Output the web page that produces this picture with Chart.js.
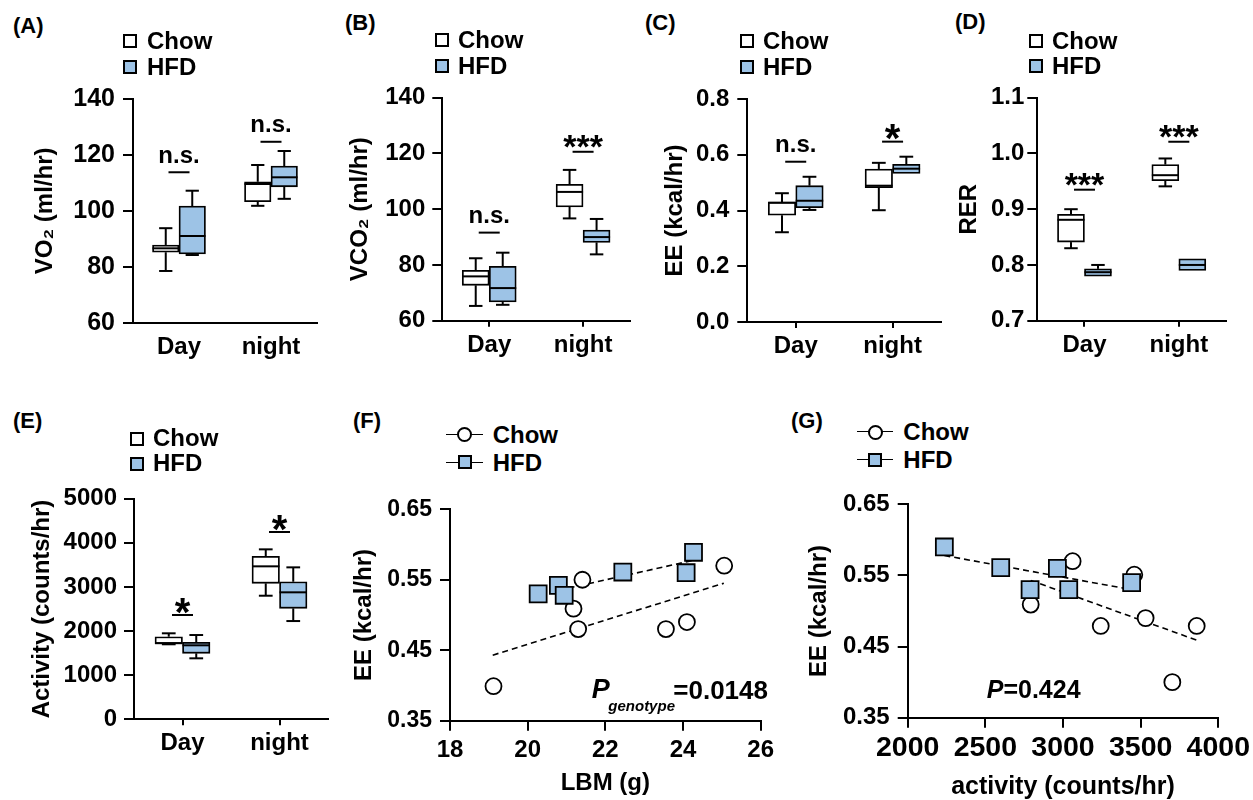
<!DOCTYPE html>
<html><head><meta charset="utf-8">
<script src="https://cdn.jsdelivr.net/npm/chart.js@4.4.0/dist/chart.umd.min.js"></script>
<style>
html,body{margin:0;padding:0;background:#fff;width:1253px;height:800px;overflow:hidden;position:relative;font-family:"Liberation Sans",Arial,sans-serif;font-weight:bold;color:#000}
canvas{position:absolute}
.t{position:absolute;white-space:nowrap;line-height:1;font-weight:bold}
.mk{position:absolute;box-sizing:border-box;border:2px solid #000}
.ln{position:absolute;height:0;border-top:1.6px solid #000}
</style></head><body>
<script>
// ---------- DATA ----------
const categories = ['Day', 'night'];
const groups = ['Chow', 'HFD'];
// box statistics per category: [min, q1, median, q3, max]
const vo2Chow  = [[78.5, 85.2, 86.6, 87.8, 93.8], [101.8, 103.3, 109.6, 110.4, 116.4]];
const vo2HFD   = [[84.2, 84.6, 91.0, 101.7, 107.2], [104.3, 108.6, 112.0, 116.0, 121.4]];
const vco2Chow = [[65.3, 72.7, 75.9, 78.1, 82.4], [96.7, 100.8, 106.2, 108.9, 114.1]];
const vco2HFD  = [[65.7, 66.7, 71.7, 79.5, 84.4], [83.8, 88.1, 90.0, 92.5, 96.5]];
const eeChow   = [[0.322, 0.383, 0.428, 0.430, 0.462], [0.401, 0.482, 0.489, 0.549, 0.571]];
const eeHFD    = [[0.402, 0.410, 0.435, 0.489, 0.521], [0.533, 0.533, 0.550, 0.566, 0.593]];
const rerChow  = [[0.830, 0.841, 0.881, 0.891, 0.900], [0.941, 0.951, 0.961, 0.980, 0.991]];
const rerHFD   = [[0.780, 0.780, 0.787, 0.793, 0.800], [0.790, 0.790, 0.800, 0.811, 0.811]];
const actChow  = [[1700, 1713, 1725, 1872, 1949], [2801, 3082, 3467, 3693, 3852]];
const actHFD   = [[1382, 1496, 1677, 1745, 1910], [2227, 2515, 2878, 3118, 3444]];
// significance marks: [label, bar height value] per category
const sigVO2  = [['n.s.', 113.8], ['n.s.', 124.7]];
const sigVCO2 = [['n.s.', 91.6], ['***', 120.6]];
const sigEE   = [['n.s.', 0.575], ['*', 0.647]];
const sigRER  = [['***', 0.935], ['***', 1.021]];
const sigAct  = [['*', 2364], ['*', 4245]];
// tick values
const vo2Ticks  = [60, 80, 100, 120, 140];
const vco2Ticks = [60, 80, 100, 120, 140];
const eeTicks   = [0, 0.2, 0.4, 0.6, 0.8];
const rerTicks  = [0.7, 0.8, 0.9, 1.0, 1.1];
const actTicks  = [0, 1000, 2000, 3000, 4000, 5000];
const eeScTicks = [0.35, 0.45, 0.55, 0.65];
const lbmTicks  = [18, 20, 22, 24, 26];
const activityTicks = [2000, 2500, 3000, 3500, 4000];
// scatter F: EE vs LBM
const lbmChow = [19.12, 21.41, 21.18, 21.30, 23.56, 24.10, 25.06];
const eeChowF = [0.399, 0.550, 0.509, 0.480, 0.480, 0.490, 0.570];
const lbmHFD  = [20.27, 20.79, 20.94, 22.45, 24.08, 24.27];
const eeHFDF  = [0.530, 0.542, 0.528, 0.561, 0.560, 0.589];
const fitChowF = [[19.1, 0.443], [25.05, 0.545]];
const fitHFDF  = [[20.3, 0.529], [24.3, 0.578]];
// scatter G: EE vs activity
const actChowG = [3062, 2792, 3243, 3459, 3532, 3861, 3704];
const eeChowG  = [0.570, 0.509, 0.479, 0.551, 0.490, 0.479, 0.400];
const actHFDG  = [2236, 2599, 2788, 2964, 3037, 3442];
const eeHFDG   = [0.590, 0.561, 0.530, 0.560, 0.530, 0.540];
const fitChowG = [[2792, 0.543], [3861, 0.459]];
const fitHFDG  = [[2236, 0.578], [3442, 0.530]];

// ---------- STYLE / SETUP ----------
const BLUE = '#9DC3E6';
const FAM = '"Liberation Sans", Arial, sans-serif';
Chart.defaults.font.family = FAM;
Chart.defaults.font.weight = 'bold';
Chart.defaults.color = '#000';
Chart.defaults.animation = false;
Chart.defaults.plugins.legend.display = false;
Chart.defaults.plugins.tooltip.enabled = false;
Chart.defaults.events = [];

function makeCanvas(c) {
  const cv = document.createElement('canvas');
  cv.width = c.w; cv.height = c.h;
  cv.style.left = c.x + 'px'; cv.style.top = c.y + 'px';
  cv.style.width = c.w + 'px'; cv.style.height = c.h + 'px';
  document.body.appendChild(cv);
  return cv;
}
function text(html, x, baseline, size, style) {
  const d = document.createElement('div');
  d.className = 't';
  d.style.left = x + 'px';
  d.style.top = (baseline - 0.8465 * size) + 'px';
  d.style.fontSize = size + 'px';
  if (style) d.style.cssText += style;
  d.innerHTML = html;
  document.body.appendChild(d);
  return d;
}
function box(x, y, w, h, bg, radius) {
  const d = document.createElement('div');
  d.className = 'mk';
  Object.assign(d.style, {left: x + 'px', top: y + 'px', width: w + 'px', height: h + 'px', background: bg});
  if (radius) d.style.borderRadius = '50%';
  document.body.appendChild(d);
}
function hline(x1, x2, y) {
  const d = document.createElement('div');
  d.className = 'ln';
  Object.assign(d.style, {left: x1 + 'px', top: (y - 0.8) + 'px', width: (x2 - x1) + 'px'});
  document.body.appendChild(d);
}

const boxPlugin = {
  id: 'boxes',
  afterDatasetsDraw(chart, args, opts) {
    const ctx = chart.ctx, ys = chart.scales.y, xs = chart.scales.x;
    ctx.save();
    ctx.strokeStyle = '#000'; ctx.lineWidth = 2; ctx.lineCap = 'butt';
    const seg = (x1, y1, x2, y2) => { ctx.beginPath(); ctx.moveTo(x1, y1); ctx.lineTo(x2, y2); ctx.stroke(); };
    chart.data.datasets.forEach((ds, di) => {
      const meta = chart.getDatasetMeta(di);
      ds.stats.forEach((s, i) => {
        const bar = meta.data[i];
        const cx = bar.x, w = bar.width;
        const pMin = ys.getPixelForValue(s[0]), pQ1 = ys.getPixelForValue(s[1]);
        const pMed = ys.getPixelForValue(s[2]), pQ3 = ys.getPixelForValue(s[3]);
        const pMax = ys.getPixelForValue(s[4]);
        seg(cx - w / 2, pMed, cx + w / 2, pMed);
        if (s[4] > s[3]) { seg(cx, pQ3, cx, pMax); seg(cx - w / 4, pMax, cx + w / 4, pMax); }
        if (s[0] < s[1]) { seg(cx, pQ1, cx, pMin); seg(cx - w / 4, pMin, cx + w / 4, pMin); }
      });
    });
    (opts.sig || []).forEach(([label, v], i) => {
      const cx = xs.getPixelForValue(i), py = ys.getPixelForValue(v);
      seg(cx - 10.5, py, cx + 10.5, py);
      ctx.fillStyle = '#000'; ctx.textAlign = 'center'; ctx.textBaseline = 'alphabetic';
      let size = 24, off = -9.6;
      if (label === '***') { size = 34; off = 6; }
      else if (label === '*') { size = 40; off = 10.5; }
      ctx.font = 'bold ' + size + 'px ' + FAM;
      ctx.fillText(label, cx, py + off);
    });
    ctx.restore();
  }
};

function boxChart(p) {
  const c = p.canvas, a = p.area;
  const cv = makeCanvas(c);
  const ds = (label, stats, bg) => ({
    label, data: stats.map(s => [s[1], s[3]]), stats,
    backgroundColor: bg, borderColor: '#000', borderWidth: 1.8, borderSkipped: false,
    barThickness: p.barW
  });
  new Chart(cv, {
    type: 'bar',
    data: { labels: categories, datasets: [ds(groups[0], p.chow, '#fff'), ds(groups[1], p.hfd, BLUE)] },
    options: {
      responsive: false, devicePixelRatio: 1,
      layout: { padding: { left: 0, top: a.t - c.y, right: c.x + c.w - a.r, bottom: 0 } },
      scales: {
        x: {
          type: 'category', offset: true,
          grid: { display: true, drawOnChartArea: false, offset: false, drawTicks: true, tickLength: 6,
                  tickColor: p.noXTicks ? 'rgba(0,0,0,0)' : '#000', tickWidth: 2, lineWidth: 2 },
          border: { display: true, color: '#000', width: 2 },
          ticks: { font: { size: 24 }, padding: 4, maxRotation: 0, autoSkip: false },
          afterFit(s) { s.height = c.y + c.h - a.b; }
        },
        y: {
          type: 'linear', min: p.yTicks[0], max: p.yTicks[p.yTicks.length - 1],
          grid: { display: true, drawOnChartArea: false, drawTicks: true, tickLength: 10, tickColor: '#000', tickWidth: 2, lineWidth: 2 },
          border: { display: true, color: '#000', width: 2 },
          ticks: { font: { size: p.yFont || 23 }, padding: p.yPad, callback: v => p.fmt(v) },
          afterBuildTicks(s) { s.ticks = p.yTicks.map(v => ({ value: v })); },
          title: { display: true, text: p.title, font: { size: 24 }, padding: { top: p.titleX - c.x - 14.4, bottom: 0 } },
          afterFit(s) { s.width = a.l - c.x; }
        }
      },
      plugins: { boxes: { sig: p.sig } }
    },
    plugins: [boxPlugin]
  });
}

function scatterChart(p) {
  const c = p.canvas, a = p.area;
  const cv = makeCanvas(c);
  const pts = (xs, ys) => xs.map((x, i) => ({ x, y: ys[i] }));
  const fit = f => f.map(([x, y]) => ({ x, y }));
  const fitDs = f => ({ type: 'line', data: fit(f), borderColor: '#000', borderWidth: 1.6, borderDash: [6, 4],
                        pointRadius: 0, fill: false, order: 3, tension: 0 });
  const lh = p.xTitleSize * 1.2;
  new Chart(cv, {
    type: 'scatter',
    data: { datasets: [
      fitDs(p.fitChow), fitDs(p.fitHFD),
      { label: groups[0], data: pts(p.chowX, p.chowY), pointStyle: 'circle', pointRadius: 8,
        pointBackgroundColor: '#fff', pointBorderColor: '#000', pointBorderWidth: 1.8, order: 2 },
      { label: groups[1], data: pts(p.hfdX, p.hfdY), pointStyle: 'rect', pointRadius: 12,
        pointBackgroundColor: BLUE, pointBorderColor: '#000', pointBorderWidth: 1.8, order: 1 }
    ] },
    options: {
      responsive: false, devicePixelRatio: 1,
      layout: { padding: { left: 0, top: a.t - c.y, right: c.x + c.w - a.r, bottom: 0 } },
      scales: {
        x: {
          type: 'linear', min: p.xTicks[0], max: p.xTicks[p.xTicks.length - 1],
          grid: { display: true, drawOnChartArea: false, drawTicks: true, tickLength: 10, tickColor: '#000', tickWidth: 2, lineWidth: 2 },
          border: { display: true, color: '#000', width: 2 },
          ticks: { font: { size: p.xFont }, padding: p.xPad, maxRotation: 0, autoSkip: false, callback: v => String(v) },
          afterBuildTicks(s) { s.ticks = p.xTicks.map(v => ({ value: v })); },
          title: { display: true, text: p.xTitle, font: { size: p.xTitleSize }, padding: { top: 0, bottom: Math.max(0, c.y + c.h - lh / 2 - p.xTitleY) } },
          afterFit(s) { s.height = c.y + c.h - a.b; }
        },
        y: {
          type: 'linear', min: p.yTicks[0], max: p.yTicks[p.yTicks.length - 1],
          grid: { display: true, drawOnChartArea: false, drawTicks: true, tickLength: 10, tickColor: '#000', tickWidth: 2, lineWidth: 2 },
          border: { display: true, color: '#000', width: 2 },
          ticks: { font: { size: p.yFont }, padding: p.yPad, callback: v => v.toFixed(2) },
          afterBuildTicks(s) { s.ticks = p.yTicks.map(v => ({ value: v })); },
          title: { display: true, text: p.yTitle, font: { size: 24 }, padding: { top: p.titleX - c.x - 14.4, bottom: 0 } },
          afterFit(s) { s.width = a.l - c.x; }
        }
      }
    }
  });
}

// ---------- PANELS ----------
boxChart({ canvas: { x: 0, y: 69, w: 330, h: 311 }, area: { l: 133, r: 317, t: 99, b: 322.7 },
  chow: vo2Chow, hfd: vo2HFD, sig: sigVO2, yTicks: vo2Ticks, fmt: v => String(v), title: 'VO\u2082 (ml/hr)',
  titleX: 45, yPad: 8, yFont: 25, barW: 26.5, noXTicks: true });
boxChart({ canvas: { x: 330, y: 67, w: 310, h: 313 }, area: { l: 442.3, r: 630, t: 97.7, b: 320.7 },
  chow: vco2Chow, hfd: vco2HFD, sig: sigVCO2, yTicks: vco2Ticks, fmt: v => String(v), title: 'VCO\u2082 (ml/hr)',
  titleX: 360, yPad: 7, yFont: 24, barW: 27 });
boxChart({ canvas: { x: 640, y: 69, w: 305, h: 311 }, area: { l: 747.3, r: 941, t: 99, b: 322 },
  chow: eeChow, hfd: eeHFD, sig: sigEE, yTicks: eeTicks, fmt: v => v.toFixed(1), title: 'EE (kcal/hr)',
  titleX: 675, yPad: 8, yFont: 24, barW: 27.5 });
boxChart({ canvas: { x: 945, y: 67, w: 300, h: 313 }, area: { l: 1037.3, r: 1226, t: 97.7, b: 320.7 },
  chow: rerChow, hfd: rerHFD, sig: sigRER, yTicks: rerTicks, fmt: v => v.toFixed(1), title: 'RER',
  titleX: 969, yPad: 3, yFont: 24, barW: 27 });
boxChart({ canvas: { x: 0, y: 468, w: 340, h: 312 }, area: { l: 134, r: 328, t: 498.7, b: 719.3 },
  chow: actChow, hfd: actHFD, sig: sigAct, yTicks: actTicks, fmt: v => String(v), title: 'Activity (counts/hr)',
  titleX: 42, yPad: 7, yFont: 24, barW: 27.5 });
scatterChart({ canvas: { x: 340, y: 479, w: 460, h: 323 }, area: { l: 450, r: 760.7, t: 509.3, b: 720.7 },
  chowX: lbmChow, chowY: eeChowF, hfdX: lbmHFD, hfdY: eeHFDF, fitChow: fitChowF, fitHFD: fitHFDF,
  xTicks: lbmTicks, yTicks: eeScTicks, xTitle: 'LBM (g)', yTitle: 'EE (kcal/hr)', titleX: 364,
  xFont: 24, xPad: 5, xTitleSize: 24, xTitleY: 783, yFont: 23, yPad: 8 });
scatterChart({ canvas: { x: 790, y: 474, w: 478, h: 328 }, area: { l: 907.7, r: 1218.3, t: 504.3, b: 717.7 },
  chowX: actChowG, chowY: eeChowG, hfdX: actHFDG, hfdY: eeHFDG, fitChow: fitChowG, fitHFD: fitHFDG,
  xTicks: activityTicks, yTicks: eeScTicks, xTitle: 'activity (counts/hr)', yTitle: 'EE (kcal/hr)', titleX: 819.5,
  xFont: 28.5, xPad: 3.6, xTitleSize: 25, xTitleY: 786.7, yFont: 24, yPad: 8 });

// ---------- PANEL LETTERS ----------
text('(A)', 13, 33.5, 22); text('(B)', 345, 30.5, 22); text('(C)', 645, 30.5, 22); text('(D)', 955, 29.5, 22);
text('(E)', 13, 429, 22); text('(F)', 353, 429, 22); text('(G)', 791, 429, 22);

// ---------- LEGENDS ----------
function boxLegend(sqX, textX, b1, b2) {
  box(sqX, b1 - 15, 14, 14, '#fff'); text(groups[0], textX, b1, 24);
  box(sqX, b2 - 15, 14, 14, BLUE);  text(groups[1], textX, b2, 24);
}
boxLegend(123, 147, 49.3, 75);
boxLegend(435, 458, 48.3, 74);
boxLegend(740, 763, 49, 75);
boxLegend(1029, 1052, 49.3, 74.3);
boxLegend(130, 153, 446.7, 471.7);
function lineLegend(x1, x2, textX, b1, b2) {
  const cx = (x1 + x2) / 2;
  const c1 = b1 - 8.6, c2 = b2 - 8.6;
  hline(x1, x2, c1); box(cx - 7.5, c1 - 7.5, 15, 15, '#fff', true); text(groups[0], textX, b1, 24);
  hline(x1, x2, c2); box(cx - 7, c2 - 7, 14, 14, BLUE); text(groups[1], textX, b2, 24);
}
lineLegend(446, 483, 492.7, 443.3, 471);
lineLegend(857, 893, 903.3, 440.7, 468.3);

// ---------- P VALUES ----------
text('P', 591.7, 699.3, 27, 'font-style:italic');
text('genotype', 608.3, 711, 15, 'font-style:italic');
text('=0.0148', 673.3, 699.3, 26);
text('<i>P</i>=0.424', 986.7, 697.7, 25);
</script>
</body></html>
